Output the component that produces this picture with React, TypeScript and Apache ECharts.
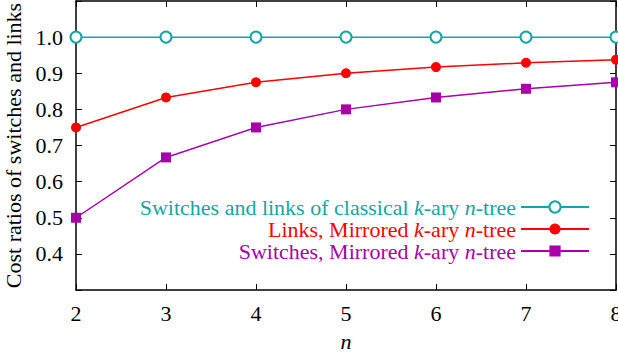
import React, { useEffect, useRef } from "react";
import * as echarts from "echarts";

const nValues = [2, 3, 4, 5, 6, 7, 8];
const classical = [1.0, 1.0, 1.0, 1.0, 1.0, 1.0, 1.0];
const linksMirrored = [0.75, 0.833, 0.875, 0.9, 0.917, 0.929, 0.9375];
const switchesMirrored = [0.5, 0.667, 0.75, 0.8, 0.833, 0.857, 0.875];
const yTickLabels = ["0.4", "0.5", "0.6", "0.7", "0.8", "0.9", "1.0"];

const names = [
  "Switches and links of classical {i|k}-ary {i|n}-tree",
  "Links, Mirrored {i|k}-ary {i|n}-tree",
  "Switches, Mirrored {i|k}-ary {i|n}-tree",
];
const colors = ["#13a6a6", "#ff0000", "#a800a8"];
const FONT = "'Liberation Serif', 'Times New Roman', serif";
const FS = 22;

export default function App() {
  const ref = useRef<HTMLDivElement>(null);
  useEffect(() => {
    if (!ref.current) return;
    const chart = echarts.init(ref.current, null, { renderer: "svg" });
    const pairs = (ys: number[]) => nValues.map((x, i) => [x, ys[i]]);
    const baseAxisLine = { show: true, lineStyle: { color: "#000", width: 1.5 } };
    const tick = { show: true, inside: true, length: 6, lineStyle: { color: "#000", width: 1 } };
    chart.setOption({
      animation: false,
      textStyle: { fontFamily: FONT },
      grid: { left: 76, right: 2, top: 1, bottom: 68, outerBoundsMode: "none", containLabel: false },
      legend: {
        orient: "vertical",
        align: "right",
        right: 28,
        top: 196,
        padding: 0,
        itemWidth: 68,
        itemHeight: 14,
        itemGap: 0,
        data: names.map((n, i) => ({
          name: n,
          textStyle: {
            color: colors[i],
            fontFamily: FONT,
            fontSize: FS,
            lineHeight: 22,
            rich: { i: { fontStyle: "italic", color: colors[i], fontFamily: FONT, fontSize: FS, lineHeight: 22 } },
          },
        })),
      },
      xAxis: [
        {
          type: "value",
          min: 2,
          max: 8,
          interval: 1,
          name: "n",
          nameLocation: "middle",
          nameGap: 40,
          nameTextStyle: { fontFamily: FONT, fontSize: FS, fontStyle: "italic", color: "#000" },
          axisLine: baseAxisLine,
          axisTick: tick,
          splitLine: { show: false },
          axisLabel: { fontFamily: FONT, fontSize: FS, color: "#000", margin: 12 },
        },
        {
          type: "value",
          position: "top",
          min: 2,
          max: 8,
          interval: 1,
          axisLine: baseAxisLine,
          axisTick: tick,
          splitLine: { show: false },
          axisLabel: { show: false },
        },
      ],
      yAxis: [
        {
          type: "value",
          min: 0.3,
          max: 1.1,
          interval: 0.1,
          name: "Cost ratios of switches and links",
          nameLocation: "middle",
          nameGap: 47,
          nameTextStyle: { fontFamily: FONT, fontSize: FS, color: "#000" },
          axisLine: baseAxisLine,
          axisTick: tick,
          splitLine: { show: false },
          axisLabel: {
            fontFamily: FONT,
            fontSize: FS,
            color: "#000",
            margin: 13,
            formatter: (v: number) => {
              const s = v.toFixed(1);
              return yTickLabels.includes(s) ? s : "";
            },
          },
        },
        {
          type: "value",
          position: "right",
          min: 0.3,
          max: 1.1,
          interval: 0.1,
          axisLine: baseAxisLine,
          axisTick: tick,
          splitLine: { show: false },
          axisLabel: { show: false },
        },
      ],
      series: [
        {
          name: names[0],
          type: "line",
          data: pairs(classical),
          color: colors[0],
          symbol: "emptyCircle",
          symbolSize: 11,
          lineStyle: { width: 1.5, color: colors[0] },
          itemStyle: { color: colors[0], borderColor: colors[0], borderWidth: 1.5 },
          z: 3,
        },
        {
          name: names[1],
          type: "line",
          data: pairs(linksMirrored),
          color: colors[1],
          symbol: "circle",
          symbolSize: 10,
          lineStyle: { width: 1.5, color: colors[1] },
          itemStyle: { color: colors[1] },
          z: 4,
        },
        {
          name: names[2],
          type: "line",
          data: pairs(switchesMirrored),
          color: colors[2],
          symbol: "rect",
          symbolSize: 10,
          lineStyle: { width: 1.5, color: colors[2] },
          itemStyle: { color: colors[2] },
          z: 5,
        },
      ],
    });
    return () => chart.dispose();
  }, []);
  return (
    <div
      ref={ref}
      style={{ position: "fixed", left: 0, top: 0, width: 618, height: 358, background: "#fff" }}
    />
  );
}
